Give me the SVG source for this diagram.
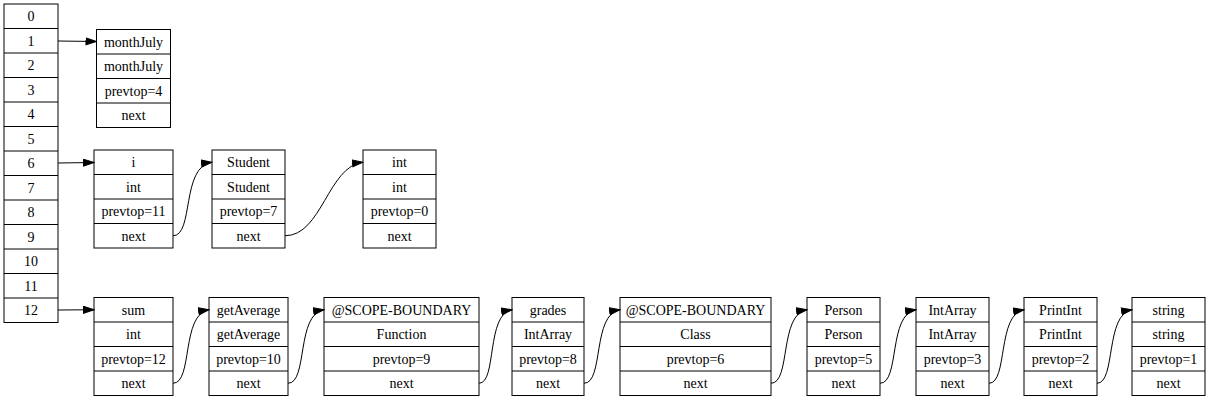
<svg xmlns="http://www.w3.org/2000/svg" width="1209" height="400" viewBox="0 0 1209 400">
<defs>
<style>
.box{fill:#fff;stroke:#000;stroke-width:1}
.sep{stroke:#000;stroke-width:1}
text{font-family:"Liberation Serif","Times New Roman",serif;font-size:14px;fill:#000;text-anchor:middle}
.edge{fill:none;stroke:#000;stroke-width:1;marker-end:url(#arr)}
</style>
<marker id="arr" markerUnits="userSpaceOnUse" markerWidth="12" markerHeight="9" refX="11" refY="4" orient="auto">
<path d="M0.5,0.5 L11,4 L0.5,7.5 z" fill="#000" stroke="#000" stroke-width="1"/>
</marker>
</defs>
<rect width="1209" height="400" fill="#fff"/>
<g id="table">
<rect class="box" x="4" y="4" width="54" height="318.5"/>
<path class="sep" d="M4,28.5H58M4,53H58M4,77.5H58M4,102H58M4,126.5H58M4,151H58M4,175.5H58M4,200H58M4,224.5H58M4,249H58M4,273.5H58M4,298H58"/>
<text x="31" y="21">0</text>
<text x="31" y="45.5">1</text>
<text x="31" y="70">2</text>
<text x="31" y="94.5">3</text>
<text x="31" y="119">4</text>
<text x="31" y="143.5">5</text>
<text x="31" y="168">6</text>
<text x="31" y="192.5">7</text>
<text x="31" y="217">8</text>
<text x="31" y="241.5">9</text>
<text x="31" y="266">10</text>
<text x="31" y="290.5">11</text>
<text x="31" y="315">12</text>
</g>
<g id="monthJuly">
<rect class="box" x="96.5" y="29.5" width="74" height="98"/>
<path class="sep" d="M96.5,54H170.5M96.5,78.5H170.5M96.5,103H170.5"/>
<text x="133.5" y="46.5">monthJuly</text>
<text x="133.5" y="71">monthJuly</text>
<text x="133.5" y="95.5">prevtop=4</text>
<text x="133.5" y="120">next</text>
</g>
<g id="i">
<rect class="box" x="94" y="150" width="79" height="98"/>
<path class="sep" d="M94,174.5H173M94,199H173M94,223.5H173"/>
<text x="133.5" y="167">i</text>
<text x="133.5" y="191.5">int</text>
<text x="133.5" y="216">prevtop=11</text>
<text x="133.5" y="240.5">next</text>
</g>
<g id="Student">
<rect class="box" x="212" y="150" width="73" height="98"/>
<path class="sep" d="M212,174.5H285M212,199H285M212,223.5H285"/>
<text x="248.5" y="167">Student</text>
<text x="248.5" y="191.5">Student</text>
<text x="248.5" y="216">prevtop=7</text>
<text x="248.5" y="240.5">next</text>
</g>
<g id="int">
<rect class="box" x="363" y="150" width="73" height="98"/>
<path class="sep" d="M363,174.5H436M363,199H436M363,223.5H436"/>
<text x="399.5" y="167">int</text>
<text x="399.5" y="191.5">int</text>
<text x="399.5" y="216">prevtop=0</text>
<text x="399.5" y="240.5">next</text>
</g>
<g id="sum">
<rect class="box" x="94" y="297.5" width="79" height="98"/>
<path class="sep" d="M94,322H173M94,346.5H173M94,371H173"/>
<text x="133.5" y="314.5">sum</text>
<text x="133.5" y="339">int</text>
<text x="133.5" y="363.5">prevtop=12</text>
<text x="133.5" y="388">next</text>
</g>
<g id="getAverage">
<rect class="box" x="209" y="297.5" width="79" height="98"/>
<path class="sep" d="M209,322H288M209,346.5H288M209,371H288"/>
<text x="248.5" y="314.5">getAverage</text>
<text x="248.5" y="339">getAverage</text>
<text x="248.5" y="363.5">prevtop=10</text>
<text x="248.5" y="388">next</text>
</g>
<g id="scope1">
<rect class="box" x="324" y="297.5" width="155" height="98"/>
<path class="sep" d="M324,322H479M324,346.5H479M324,371H479"/>
<text x="401.5" y="314.5">@SCOPE-BOUNDARY</text>
<text x="401.5" y="339">Function</text>
<text x="401.5" y="363.5">prevtop=9</text>
<text x="401.5" y="388">next</text>
</g>
<g id="grades">
<rect class="box" x="512" y="297.5" width="72" height="98"/>
<path class="sep" d="M512,322H584M512,346.5H584M512,371H584"/>
<text x="548" y="314.5">grades</text>
<text x="548" y="339">IntArray</text>
<text x="548" y="363.5">prevtop=8</text>
<text x="548" y="388">next</text>
</g>
<g id="scope2">
<rect class="box" x="620" y="297.5" width="151" height="98"/>
<path class="sep" d="M620,322H771M620,346.5H771M620,371H771"/>
<text x="695.5" y="314.5">@SCOPE-BOUNDARY</text>
<text x="695.5" y="339">Class</text>
<text x="695.5" y="363.5">prevtop=6</text>
<text x="695.5" y="388">next</text>
</g>
<g id="Person">
<rect class="box" x="807" y="297.5" width="73" height="98"/>
<path class="sep" d="M807,322H880M807,346.5H880M807,371H880"/>
<text x="843.5" y="314.5">Person</text>
<text x="843.5" y="339">Person</text>
<text x="843.5" y="363.5">prevtop=5</text>
<text x="843.5" y="388">next</text>
</g>
<g id="IntArray">
<rect class="box" x="916" y="297.5" width="73" height="98"/>
<path class="sep" d="M916,322H989M916,346.5H989M916,371H989"/>
<text x="952.5" y="314.5">IntArray</text>
<text x="952.5" y="339">IntArray</text>
<text x="952.5" y="363.5">prevtop=3</text>
<text x="952.5" y="388">next</text>
</g>
<g id="PrintInt">
<rect class="box" x="1024" y="297.5" width="73" height="98"/>
<path class="sep" d="M1024,322H1097M1024,346.5H1097M1024,371H1097"/>
<text x="1060.5" y="314.5">PrintInt</text>
<text x="1060.5" y="339">PrintInt</text>
<text x="1060.5" y="363.5">prevtop=2</text>
<text x="1060.5" y="388">next</text>
</g>
<g id="string">
<rect class="box" x="1132" y="297.5" width="73" height="98"/>
<path class="sep" d="M1132,322H1205M1132,346.5H1205M1132,371H1205"/>
<text x="1168.5" y="314.5">string</text>
<text x="1168.5" y="339">string</text>
<text x="1168.5" y="363.5">prevtop=1</text>
<text x="1168.5" y="388">next</text>
</g>
<g id="connectors">
<path class="edge" d="M58,41 L96.5,41.5"/>
<path class="edge" d="M58,163 L94,162.5"/>
<path class="edge" d="M58,310 L94,309.75"/>
<path class="edge" d="M173,235.75 C194,235.75 181,166 212,162.25"/>
<path class="edge" d="M285,235.75 C322,235.75 328,166 363,162.25"/>
<path class="edge" d="M173,383.25 C193,383.25 181,314 209,309.75"/>
<path class="edge" d="M288,383.25 C308,383.25 296,314 324,309.75"/>
<path class="edge" d="M479,383.25 C497,383.25 486,314 512,309.75"/>
<path class="edge" d="M584,383.25 C604,383.25 592,314 620,309.75"/>
<path class="edge" d="M771,383.25 C791,383.25 779,314 807,309.75"/>
<path class="edge" d="M880,383.25 C900,383.25 888,314 916,309.75"/>
<path class="edge" d="M989,383.25 C1008,383.25 997,314 1024,309.75"/>
<path class="edge" d="M1097,383.25 C1116,383.25 1105,314 1132,309.75"/>
</g>
</svg>
